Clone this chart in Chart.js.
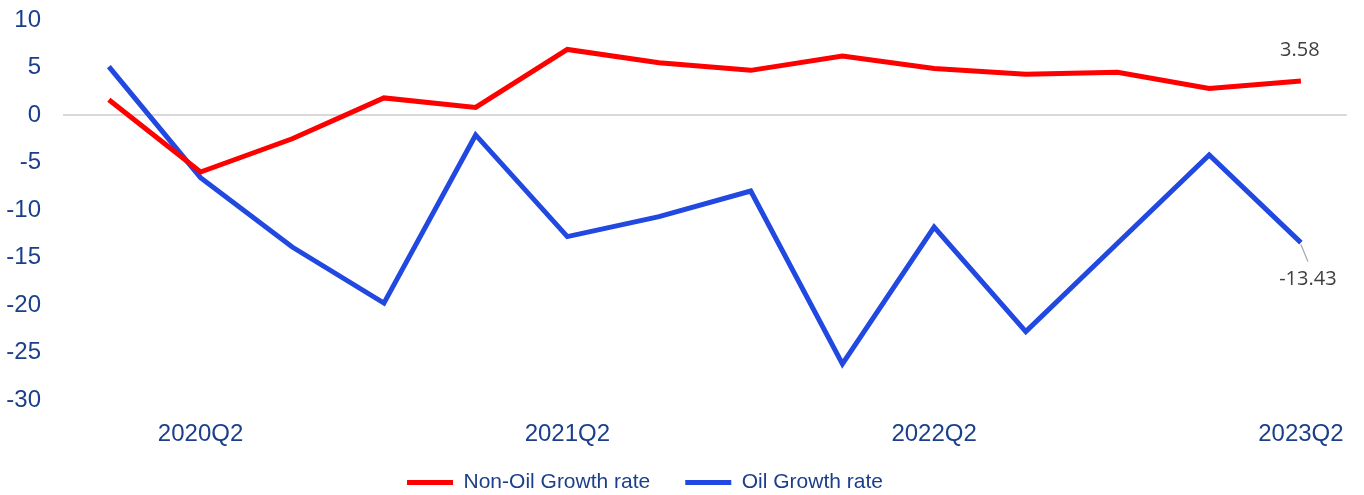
<!DOCTYPE html>
<html>
<head>
<meta charset="utf-8">
<script src="https://cdn.jsdelivr.net/npm/chart.js@4/dist/chart.umd.min.js"></script>
<style>
  html, body { margin: 0; padding: 0; background: #fff; }
  #wrap { width: 1364px; height: 495px; }
</style>
</head>
<body>
<div id="wrap"><canvas id="growthChart"></canvas></div>
<script>
var quarters = ['2020Q1', '2020Q2', '2020Q3', '2020Q4', '2021Q1', '2021Q2', '2021Q3', '2021Q4',
                '2022Q1', '2022Q2', '2022Q3', '2022Q4', '2023Q1', '2023Q2'];
var nonOilGrowth = [1.6, -6.0, -2.5, 1.8, 0.8, 6.9, 5.5, 4.7, 6.2, 4.9, 4.3, 4.5, 2.8, 3.58];
var oilGrowth = [5.1, -6.6, -13.9, -19.8, -2.1, -12.8, -10.7, -8.0, -26.2, -11.8, -22.8, -13.5, -4.2, -13.43];
var yTicks = [10, 5, 0, -5, -10, -15, -20, -25, -30];

var tickColor = '#1b3f8b';

// labels on the last point of each series
var lastLabels = {
    id: 'lastLabels',
    afterDatasetsDraw: function(chart) {
        var ctx = chart.ctx;
        ctx.save();
        ctx.font = '20px "Open Sans"';
        ctx.fillStyle = '#404040';
        ctx.textAlign = 'center';
        ctx.textBaseline = 'middle';
        // Non-oil: above
        var p0 = chart.getDatasetMeta(0).data[quarters.length - 1];
        ctx.fillText(nonOilGrowth[nonOilGrowth.length - 1].toFixed(2), p0.x - 1, p0.y - 31);
        // Oil: below with leader line
        var p1 = chart.getDatasetMeta(1).data[quarters.length - 1];
        ctx.strokeStyle = '#a6a6a6';
        ctx.lineWidth = 1.2;
        ctx.beginPath();
        ctx.moveTo(p1.x, p1.y + 2);
        ctx.lineTo(p1.x + 7, p1.y + 19);
        ctx.stroke();
        ctx.fillText(oilGrowth[oilGrowth.length - 1].toFixed(2), p1.x + 7, p1.y + 37);
        ctx.restore();
    }
};

var ctx = document.getElementById('growthChart').getContext('2d');
new Chart(ctx, {
    type: 'line',
    data: {
        labels: quarters,
        datasets: [{
            label: 'Non-Oil Growth rate',
            data: nonOilGrowth,
            borderColor: '#ff0000',
            backgroundColor: '#ff0000',
            borderWidth: 5,
            pointRadius: 0,
            tension: 0
        }, {
            label: 'Oil Growth rate',
            data: oilGrowth,
            borderColor: '#2148e0',
            backgroundColor: '#2148e0',
            borderWidth: 5,
            pointRadius: 0,
            tension: 0
        }]
    },
    options: {
        responsive: true,
        maintainAspectRatio: false,
        animation: false,
        layout: { padding: { top: 20, left: 7, right: 11, bottom: -8 } },
        plugins: {
            legend: {
                position: 'bottom',
                labels: {
                    boxWidth: 46,
                    boxHeight: 5,
                    padding: 0,
                    color: tickColor,
                    font: { family: 'Liberation Sans, Arial', size: 21 },
                    generateLabels: function(chart) {
                        var items = Chart.defaults.plugins.legend.labels.generateLabels(chart);
                        items.forEach(function(it) { it.lineWidth = 0; });
                        // spacing between items, and nudge the whole legend a bit left
                        items[0].text += '      ';
                        items[1].text += '            ';
                        return items;
                    }
                }
            },
            tooltip: { enabled: false }
        },
        scales: {
            x: {
                offset: true,
                grid: { display: false, drawTicks: false },
                border: { display: false },
                afterFit: function(axis) {
                    axis.height = 72;
                },
                ticks: {
                    autoSkip: false,
                    maxRotation: 0,
                    padding: 20,
                    color: tickColor,
                    font: { family: 'Liberation Sans, Arial', size: 24 },
                    callback: function(value, index) {
                        return (index - 1) % 4 === 0 ? quarters[index] : '';
                    }
                }
            },
            y: {
                min: yTicks[yTicks.length - 1],
                max: yTicks[0],
                afterBuildTicks: function(axis) {
                    axis.ticks = yTicks.map(function(v) { return { value: v }; });
                },
                afterFit: function(axis) {
                    axis.width = 56;
                    axis.paddingTop = 0;
                    axis.paddingBottom = 0;
                },
                grid: {
                    drawTicks: false,
                    lineWidth: 2,
                    color: function(c) {
                        return c.tick && c.tick.value === 0 ? '#d9d9d9' : 'rgba(0,0,0,0)';
                    }
                },
                border: { display: false },
                ticks: {
                    padding: 22,
                    color: tickColor,
                    font: { family: 'Liberation Sans, Arial', size: 24 }
                }
            }
        }
    },
    plugins: [lastLabels]
});
</script>
</body>
</html>
